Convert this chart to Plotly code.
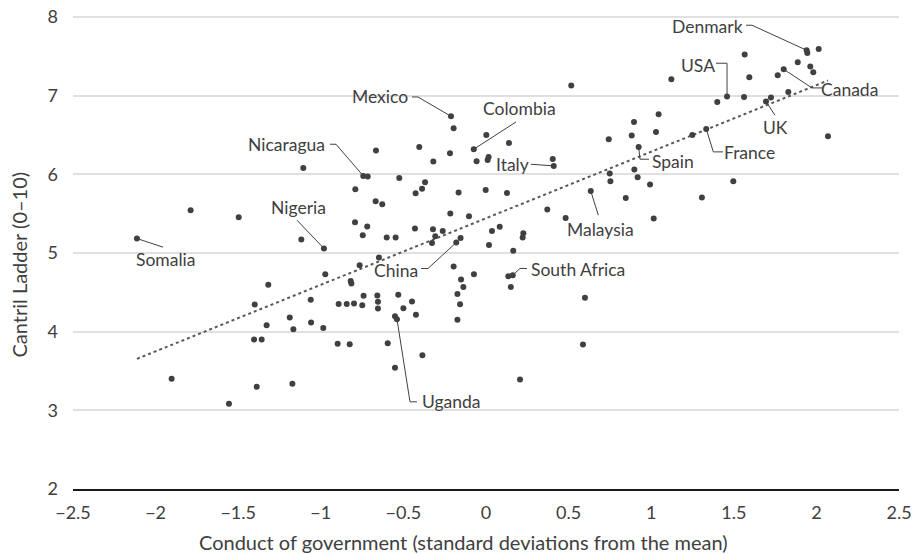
import numpy as np
import plotly.graph_objects as go

# ---- data: conduct of government (x) vs Cantril ladder (y) ----
gov_x = [
    -2.113, -1.788, -1.497, -1.106, -1.118, -1.318, -1.400, -1.061, -1.188, -1.328,
    -1.166, -1.059, -1.404, -1.358, -1.903, -1.388, -1.172, -1.556, -0.985, -0.973,
    -0.981, 0.516, -0.212, -0.196, 0.002, 0.139, 0.743, -0.666, -0.404, -0.074,
    -0.218, -0.319, -0.057, 0.010, 0.016, 0.410, 0.404, -0.743, -0.716, -0.525,
    -0.791, -0.369, -0.387, -0.426, -0.166, -0.002, 0.127, 0.749, 0.753, 0.634,
    -0.668, -0.628, 0.371, -0.216, -0.103, 0.482, -0.793, -0.719, -0.746, -0.601,
    -0.547, -0.430, -0.321, -0.262, -0.307, -0.327, 0.036, 0.083, 0.226, 0.222,
    0.018, 0.165, -0.154, -0.180, -0.648, -0.765, -0.196, -0.073, 0.135, 0.162,
    0.150, -0.151, -0.137, -0.173, -0.157, -0.173, -0.819, -0.815, -0.892, -0.843,
    -0.799, -0.749, -0.741, -0.658, -0.654, -0.654, -0.531, -0.448, -0.500, -0.424,
    -0.551, -0.539, -0.898, -0.825, -0.595, -0.385, -0.551, 0.206, 0.599, 0.587,
    1.941, 1.945, 2.014, 1.566, 1.887, 1.963, 1.981, 1.802, 1.766, 1.594,
    1.122, 1.830, 1.725, 1.695, 1.459, 1.562, 1.400, 1.045, 0.896, 0.882,
    1.029, 1.333, 1.249, 0.924, 2.070, 0.898, 0.918, 0.993, 1.497, 0.846,
    1.307, 1.015,
]
ladder_y = [
    5.184, 5.544, 5.455, 6.080, 5.171, 4.595, 4.346, 4.404, 4.180, 4.083,
    4.032, 4.117, 3.901, 3.901, 3.400, 3.299, 3.337, 3.083, 4.048, 4.730,
    5.057, 7.128, 6.738, 6.586, 6.500, 6.399, 6.446, 6.302, 6.348, 6.319,
    6.268, 6.163, 6.166, 6.183, 6.221, 6.107, 6.196, 5.980, 5.972, 5.954,
    5.811, 5.900, 5.815, 5.760, 5.769, 5.802, 5.764, 6.010, 5.912, 5.789,
    5.658, 5.620, 5.553, 5.502, 5.468, 5.446, 5.391, 5.337, 5.226, 5.197,
    5.197, 5.311, 5.302, 5.281, 5.213, 5.128, 5.281, 5.332, 5.252, 5.197,
    5.103, 5.027, 5.192, 5.133, 4.943, 4.845, 4.828, 4.730, 4.705, 4.718,
    4.569, 4.663, 4.569, 4.480, 4.349, 4.150, 4.645, 4.612, 4.353, 4.353,
    4.358, 4.337, 4.455, 4.460, 4.379, 4.295, 4.468, 4.384, 4.299, 4.214,
    4.197, 4.159, 3.845, 3.841, 3.854, 3.701, 3.540, 3.393, 4.430, 3.837,
    7.577, 7.543, 7.593, 7.522, 7.424, 7.370, 7.297, 7.335, 7.259, 7.234,
    7.208, 7.047, 6.976, 6.925, 6.989, 6.984, 6.920, 6.764, 6.666, 6.493,
    6.539, 6.577, 6.500, 6.348, 6.484, 6.061, 5.963, 5.870, 5.912, 5.700,
    5.705, 5.438,
]

# ---- labelled countries: index of the point, label position, leader elbow ----
label_names = ["Somalia", "Nigeria", "Nicaragua", "Mexico", "Colombia", "Italy",
               "China", "South Africa", "Uganda", "Malaysia", "Spain", "France",
               "UK", "USA", "Denmark", "Canada"]
label_point = [0, 20, 37, 22, 29, 35, 73, 79, 101, 49, 133, 131, 123, 124, 110, 117]
label_x = [-1.943, -1.132, -1.205, -0.642, 0.200, 0.163, -0.545, 0.557, -0.206, 0.696,
           1.132, 1.598, 1.752, 1.283, 1.338, 2.203]
label_y = [4.917, 5.582, 6.382, 6.983, 6.840, 6.128, 4.781, 4.790, 3.108, 5.302,
           6.158, 6.272, 6.595, 7.386, 7.882, 7.081]
# leader path after the point: elbow (may equal end) then end near label
elbow_x = [-1.955, -1.144, -0.908, -0.412, 0.182, 0.272, -0.351, 0.206, -0.460, 0.680,
           0.932, 1.376, 1.749, 1.459, 1.610, 1.973]
elbow_y = [5.074, 5.417, 6.382, 6.983, 6.666, 6.128, 4.803, 4.803, 3.108, 5.480,
           6.192, 6.285, 6.751, 7.412, 7.895, 7.098]
end_x = [-1.955, -1.144, -0.944, -0.448, 0.182, 0.272, -0.393, 0.248, -0.418, 0.680,
         0.987, 1.435, 1.749, 1.392, 1.574, 2.034]
end_y = elbow_y

x_ticks = [-2.5, -2, -1.5, -1, -0.5, 0, 0.5, 1, 1.5, 2, 2.5]
y_ticks = [2, 3, 4, 5, 6, 7, 8]
x_title = "Conduct of government (standard deviations from the mean)"
y_title = "Cantril Ladder (0–10)"

FONT = "Lato"
TXT = "#404040"

fig = go.Figure()

# trendline (least squares fit over the data range)
xa = np.array(gov_x)
ya = np.array(ladder_y)
slope, intercept = np.polyfit(xa, ya, 1)
tx = np.array([xa.min(), xa.max()])
fig.add_trace(go.Scatter(x=tx, y=slope * tx + intercept, mode="lines",
                         line=dict(color="#595959", width=2, dash="dot"),
                         hoverinfo="skip", showlegend=False))

# leader lines
lx, ly = [], []
for i, p in enumerate(label_point):
    lx += [gov_x[p], elbow_x[i], end_x[i], None]
    ly += [ladder_y[p], elbow_y[i], end_y[i], None]
fig.add_trace(go.Scatter(x=lx, y=ly, mode="lines",
                         line=dict(color="#404040", width=1),
                         hoverinfo="skip", showlegend=False))

# points
fig.add_trace(go.Scatter(x=gov_x, y=ladder_y, mode="markers",
                         marker=dict(color="#404040", size=6),
                         showlegend=False))

for i, name in enumerate(label_names):
    fig.add_annotation(x=label_x[i], y=label_y[i], text=name, showarrow=False,
                       xanchor="center", yanchor="middle",
                       font=dict(family=FONT, size=17.5, color=TXT))

W, H = 922, 554
ML, MR, MT, MB = 73, 23, 15, 65
plot_w = W - ML - MR
plot_h = H - MT - MB

# axis titles as annotations (the x title is centred on the chart, not the plot)
fig.add_annotation(xref="paper", yref="paper", x=(463 - ML) / plot_w, y=0,
                   yshift=-53, xanchor="center", yanchor="middle",
                   text=x_title, showarrow=False,
                   font=dict(family=FONT, size=20, color=TXT))
fig.add_annotation(xref="paper", yref="paper", x=0, xshift=18.5 - ML,
                   y=(H - MB - 265) / plot_h, xanchor="center", yanchor="middle",
                   text=y_title, textangle=-90, showarrow=False,
                   font=dict(family=FONT, size=20, color=TXT))

fig.update_layout(
    width=W, height=H,
    margin=dict(l=ML, r=MR, t=MT, b=MB, autoexpand=False),
    plot_bgcolor="white", paper_bgcolor="white",
    font=dict(family=FONT, size=18, color=TXT),
    showlegend=False,
)
fig.update_xaxes(range=[-2.5, 2.5], tickvals=x_ticks, showgrid=False, automargin=False,
                 zeroline=False, showline=True, linecolor="#1a1a1a", linewidth=2,
                 ticks="", tickfont=dict(size=18, color=TXT), ticklabelstandoff=6)
fig.update_yaxes(range=[2, 8.025], tickvals=y_ticks, showgrid=True, gridcolor="#e0e0e0",
                 gridwidth=1.5, zeroline=False, showline=False, ticks="", automargin=False,
                 tickfont=dict(size=18, color=TXT), ticklabelstandoff=14,
                 ticklabeloverflow="allow")

# remove the default 8px page margin so the 922x554 figure fills the window
fig.write_html("out.html", config={"displayModeBar": False},
               post_script="document.body.style.margin='0';")
